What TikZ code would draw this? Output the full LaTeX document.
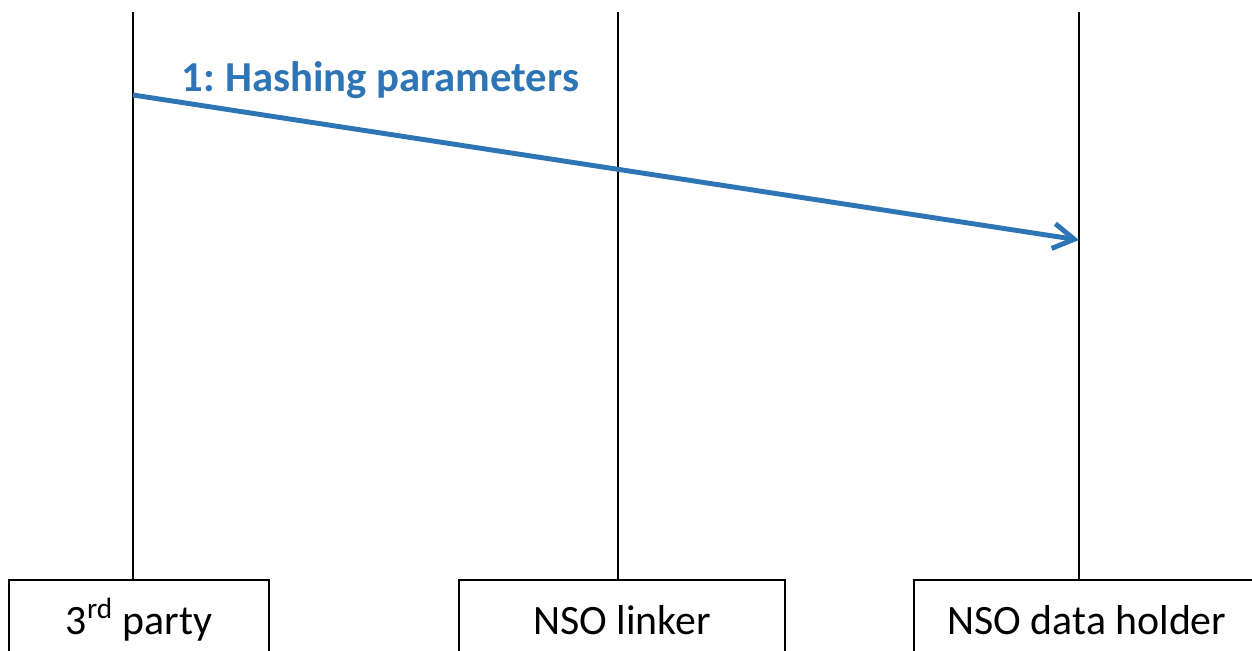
\documentclass[tikz,border=0pt]{standalone}
\usepackage{fontspec}
\setmainfont{Carlito}
\usetikzlibrary{arrows.meta}
\definecolor{msgBlue}{RGB}{46,117,182}

\begin{document}
\frenchspacing
\begin{tikzpicture}
[x=0.02cm,y=-0.02cm,
  lifeDecorate/.style={-,line width=1.2pt},
  boxDecorate/.style={shape=rectangle,draw,line width=1.2pt,inner sep=0pt,
    minimum height=1.6cm,font=\fontsize{23.8}{28}\selectfont},
  msgDecorate/.style={-{Straight Barb[length=0.42cm,width=0.5cm]},line width=2.8pt,msgBlue},
  labelDecorate/.style={msgBlue,font=\fontsize{24.3}{28}\selectfont\bfseries}]
\useasboundingbox (0,0) rectangle (1252,651);
%% participant boxes
\foreach \nodename/\x/\w/\txt in {
  third/139/260/{3\textsuperscript{rd} party},
  linker/622/326/{NSO linker},
  holder/1087/346/{NSO data holder}}
{
  \node (\nodename) at (\x,620) [boxDecorate,minimum width=\w*0.02cm] {\txt};
}
%% lifelines
\foreach \nodename/\x in {third/133, linker/618, holder/1079}
{
  \coordinate (\nodename top) at (\x,12);
  \draw[lifeDecorate] (\nodename top) -- (\nodename top |- \nodename.north);
}
%% message
\coordinate (msgstart) at (133,95);
\coordinate (msgend) at (1079,240);
\draw[msgDecorate] (msgstart) -- (msgend);
\node (msglabel) at (380.5,92) [anchor=base,labelDecorate] {1: Hashing parameters};
\end{tikzpicture}
\end{document}
